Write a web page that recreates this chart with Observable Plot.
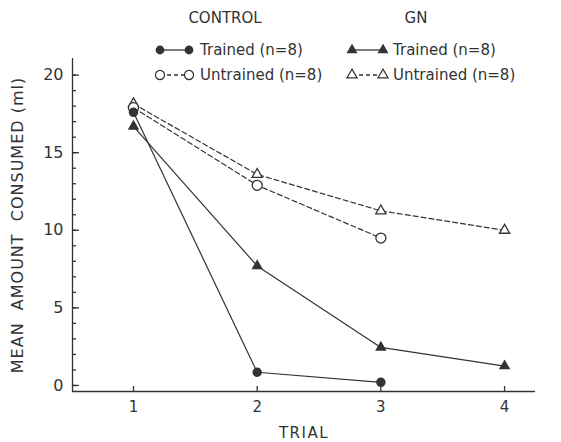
<!DOCTYPE html>
<html><head><meta charset="utf-8">
<script src="https://cdn.jsdelivr.net/npm/d3@7"></script>
<script src="https://cdn.jsdelivr.net/npm/@observablehq/plot@0.6"></script>
<style>
body{margin:0;background:#fff;}
#wrap{position:relative;width:561px;height:442px;font-family:"DejaVu Sans",sans-serif;color:#333;}
#legend{position:absolute;left:0;top:0;}
g[aria-label="y-axis label"] text{letter-spacing:1px;}
g[aria-label="x-axis label"] text{letter-spacing:1.5px;}
</style>
</head><body><div id="wrap"></div>
<script>
const trials = [1, 2, 3, 4];
const controlTrained = [17.6, 0.85, 0.2];
const controlUntrained = [17.9, 12.9, 9.5];
const gnTrained = [16.7, 7.7, 2.45, 1.25];
const gnUntrained = [18.15, 13.6, 11.25, 10.0];
const majorTicks = [0, 5, 10, 15, 20];
const minorTicks = d3.range(0, 21, 1);
const xDomain = [0.507, 4.25];
const yDomain = [-0.39, 21.07];

const toRows = (vals) => vals.map((v, i) => ({trial: trials[i], value: v}));
const ct = toRows(controlTrained), cu = toRows(controlUntrained);
const gt = toRows(gnTrained), gu = toRows(gnUntrained);
const ink = "#333";

const chart = Plot.plot({
  width: 561, height: 442,
  marginLeft: 72, marginRight: 26, marginTop: 58, marginBottom: 51,
  x: {domain: xDomain},
  y: {domain: yDomain},
  style: {fontFamily: "DejaVu Sans, sans-serif", fontSize: "15px", color: ink, background: "white"},
  marks: [
    Plot.ruleX([xDomain[0]], {stroke: ink, strokeWidth: 1.3}),
    Plot.ruleY([yDomain[0]], {stroke: ink, strokeWidth: 1.3}),
    Plot.axisY({ticks: minorTicks, tickSize: -4, tickFormat: () => "", label: null, stroke: ink, strokeWidth: 1.3}),
    Plot.axisY({ticks: majorTicks, tickSize: -7, tickFormat: () => "", label: null, stroke: ink, strokeWidth: 1.3}),
    Plot.axisX({ticks: trials, tickSize: -5, tickFormat: () => "", label: null, stroke: ink, strokeWidth: 1.3}),
    Plot.axisY({ticks: majorTicks, tickSize: 0, tickPadding: 9, label: "MEAN  AMOUNT  CONSUMED (ml)", labelAnchor: "center", labelOffset: 61, labelArrow: false, fontSize: 16}),
    Plot.axisX({ticks: trials, tickSize: 0, tickPadding: 10, tickFormat: "d", label: "TRIAL", labelAnchor: "center", labelOffset: 46, labelArrow: false, fontSize: 15}),
    Plot.line(cu, {x: "trial", y: "value", stroke: ink, strokeWidth: 1.2, strokeDasharray: "5,3"}),
    Plot.line(gu, {x: "trial", y: "value", stroke: ink, strokeWidth: 1.2, strokeDasharray: "5,3"}),
    Plot.line(ct, {x: "trial", y: "value", stroke: ink, strokeWidth: 1.2}),
    Plot.line(gt, {x: "trial", y: "value", stroke: ink, strokeWidth: 1.2}),
    Plot.dot(gu, {x: "trial", y: "value", symbol: "triangle", r: 3.8, fill: "white", stroke: ink, strokeWidth: 1.3}),
    Plot.dot(cu, {x: "trial", y: "value", symbol: "circle", r: 5, fill: "white", stroke: ink, strokeWidth: 1.3}),
    Plot.dot(gt, {x: "trial", y: "value", symbol: "triangle", r: 3.3, fill: ink, stroke: ink}),
    Plot.dot(ct, {x: "trial", y: "value", symbol: "circle", r: 4, fill: ink, stroke: ink})
  ]
});
const wrap = document.getElementById("wrap");
wrap.appendChild(chart);

// Legend overlay
const NS = "http://www.w3.org/2000/svg";
const leg = document.createElementNS(NS, "svg");
leg.setAttribute("id", "legend");
leg.setAttribute("width", 561);
leg.setAttribute("height", 90);
leg.style.fontFamily = "DejaVu Sans, sans-serif";
const groups = [
  {title: "CONTROL", tx: 225, x1: 160, x2: 189, textX: 200, sym: d3.symbolCircle, rows: [
    {label: "Trained (n=8)", filled: true, dash: null, size: 45},
    {label: "Untrained (n=8)", filled: false, dash: "4,3", size: 65}]},
  {title: "GN", tx: 416, x1: 352, x2: 383, textX: 393, sym: d3.symbolTriangle, rows: [
    {label: "Trained (n=8)", filled: true, dash: null, size: 34},
    {label: "Untrained (n=8)", filled: false, dash: "4,3", size: 45}]}
];
const rowY = [50, 75];
for (const g of groups) {
  const t = document.createElementNS(NS, "text");
  t.setAttribute("x", g.tx); t.setAttribute("y", 23);
  t.setAttribute("text-anchor", "middle"); t.setAttribute("font-size", 15); t.setAttribute("fill", ink);
  t.textContent = g.title; leg.appendChild(t);
  g.rows.forEach((r, i) => {
    const y = rowY[i];
    const l = document.createElementNS(NS, "line");
    l.setAttribute("x1", g.x1); l.setAttribute("x2", g.x2); l.setAttribute("y1", y); l.setAttribute("y2", y);
    l.setAttribute("stroke", ink); l.setAttribute("stroke-width", 1.3);
    if (r.dash) l.setAttribute("stroke-dasharray", r.dash);
    leg.appendChild(l);
    for (const sx of [g.x1, g.x2]) {
      const p = document.createElementNS(NS, "path");
      p.setAttribute("d", d3.symbol(g.sym, r.size)());
      p.setAttribute("transform", `translate(${sx},${y})`);
      p.setAttribute("fill", r.filled ? ink : "white");
      p.setAttribute("stroke", ink); p.setAttribute("stroke-width", 1.2);
      leg.appendChild(p);
    }
    const tx = document.createElementNS(NS, "text");
    tx.setAttribute("x", g.textX); tx.setAttribute("y", y + 5);
    tx.setAttribute("font-size", 15); tx.setAttribute("fill", ink);
    tx.textContent = r.label; leg.appendChild(tx);
  });
}
wrap.appendChild(leg);
</script></body></html>
